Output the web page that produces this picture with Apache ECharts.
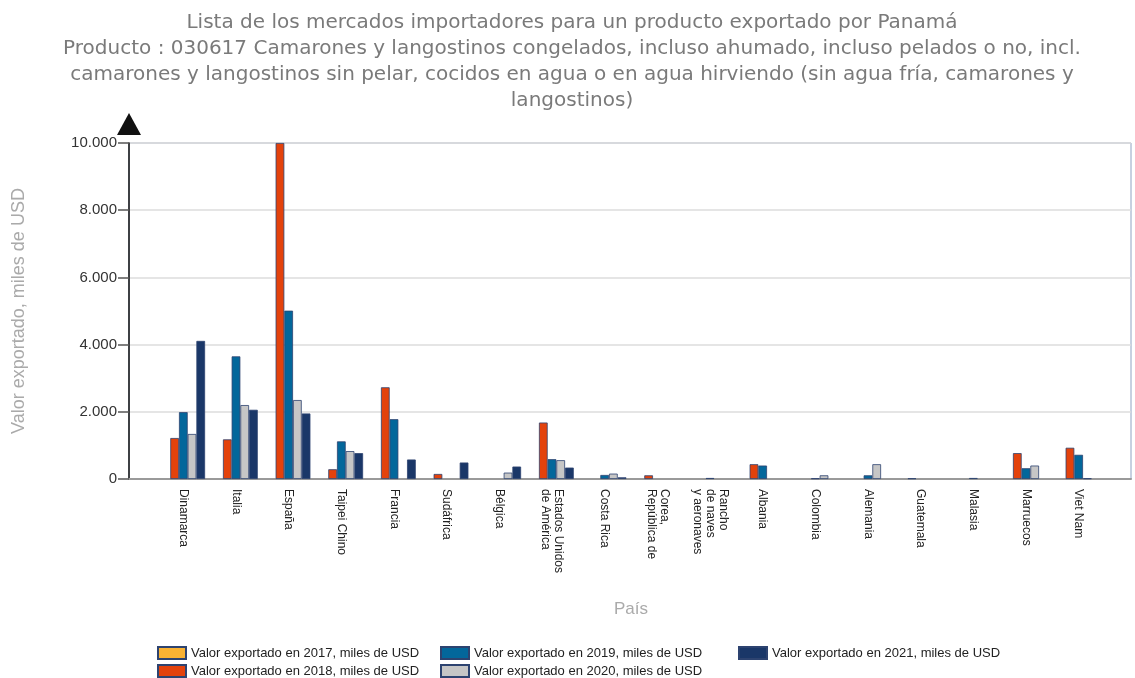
<!DOCTYPE html>
<html>
<head>
<meta charset="utf-8">
<script src="https://cdn.jsdelivr.net/npm/echarts@6/dist/echarts.min.js"></script>
<style>
  html, body { margin: 0; padding: 0; background: #fff; }
  #chart { width: 1135px; height: 678px; }
</style>
</head>
<body>
<div id="chart"></div>
<script>
// países (eje X)
const categories = [
  'Dinamarca', 'Italia', 'España', 'Taipei Chino', 'Francia', 'Sudáfrica', 'Bélgica',
  'Estados Unidos\nde América', 'Costa Rica', 'Corea,\nRepública de',
  'Rancho\nde naves\ny aeronaves', 'Albania', 'Colombia', 'Alemania', 'Guatemala',
  'Malasia', 'Marruecos', 'Viet Nam'
];

// valores exportados, miles de USD
const v2017 = [null, null, null, null, null, null, null, null, null, null, null, null, null, null, null, null, null, null];
const v2018 = [1220, 1180, 10000, 290, 2730, 150, null, 1680, null, 110, null, 440, null, null, 20, null, 770, 930];
const v2019 = [1990, 3650, 5010, 1120, 1780, null, null, 590, 120, null, 30, 400, 20, 110, null, 30, 320, 720];
const v2020 = [1340, 2200, 2350, 830, null, null, 190, 560, 160, null, null, null, 110, 440, null, null, 400, 20];
const v2021 = [4110, 2060, 1950, 770, 580, 490, 370, 340, 50, null, null, null, null, null, null, null, null, null];

const seriesNames = [
  'Valor exportado en 2017, miles de USD',
  'Valor exportado en 2018, miles de USD',
  'Valor exportado en 2019, miles de USD',
  'Valor exportado en 2020, miles de USD',
  'Valor exportado en 2021, miles de USD'
];
const seriesData = [v2017, v2018, v2019, v2020, v2021];
const colors = ['#f9b233', '#e3420c', '#03679b', '#c6c6c6', '#1a3768'];

const yTicks = [0, 2000, 4000, 6000, 8000, 10000];

const chart = echarts.init(document.getElementById('chart'));

const legendText = { fontFamily: 'Liberation Sans', fontSize: 13, color: '#222' };
const legendBase = {
  orient: 'vertical',
  top: 646,
  padding: 0,
  itemWidth: 28,
  itemHeight: 12,
  itemGap: 4,
  icon: 'rect',
  textStyle: legendText,
  selectedMode: false
};

chart.setOption({
  animation: false,
  title: {
    text: 'Lista de los mercados importadores para un producto exportado por Panamá\n' +
      'Producto : 030617 Camarones y langostinos congelados, incluso ahumado, incluso pelados o no, incl.\n' +
      'camarones y langostinos sin pelar, cocidos en agua o en agua hirviendo (sin agua fría, camarones y\n' +
      'langostinos)',
    left: 567,
    top: 5,
    textAlign: 'center',
    textStyle: {
      fontFamily: 'DejaVu Sans',
      fontSize: 20,
      fontWeight: 'normal',
      color: '#7a7a7a',
      lineHeight: 26
    }
  },
  legend: [
    Object.assign({}, legendBase, { left: 157, data: [seriesNames[0], seriesNames[1]] }),
    Object.assign({}, legendBase, { left: 440, data: [seriesNames[2], seriesNames[3]] }),
    Object.assign({}, legendBase, { left: 738, data: [seriesNames[4]] })
  ],
  grid: [
    // marco
    { left: 129, right: 4, top: 143, bottom: 199, show: true, borderColor: '#8fa2c2', borderWidth: 1 },
    // barras
    { left: 157, right: 30, top: 143, bottom: 199 }
  ],
  xAxis: [
    {
      gridIndex: 0,
      type: 'value',
      min: 0,
      max: 1,
      axisLine: { show: true, lineStyle: { color: '#9a9a9a', width: 2 } },
      axisTick: { show: false },
      axisLabel: { show: false },
      splitLine: { show: false }
    },
    {
      gridIndex: 1,
      type: 'category',
      data: categories,
      name: 'País',
      nameLocation: 'middle',
      nameGap: 122,
      nameTextStyle: { fontFamily: 'Liberation Sans', fontSize: 17, color: '#aaa' },
      axisLine: { show: false },
      axisTick: { show: false },
      axisLabel: {
        rotate: -90,
        interval: 0,
        margin: 10,
        fontFamily: 'Liberation Sans',
        fontSize: 12,
        color: '#222',
        lineHeight: 13
      }
    }
  ],
  yAxis: [
    {
      gridIndex: 0,
      type: 'value',
      min: yTicks[0],
      max: yTicks[yTicks.length - 1],
      interval: 2000,
      name: 'Valor exportado, miles de USD',
      nameLocation: 'middle',
      nameGap: 101,
      nameTextStyle: { fontFamily: 'Liberation Sans', fontSize: 18, color: '#aaa' },
      axisLine: {
        show: true,
        lineStyle: { color: '#111', width: 1.5 },
        symbol: ['none', 'triangle'],
        symbolSize: [24, 22],
        symbolOffset: [0, 19]
      },
      axisTick: { show: true, length: 11, lineStyle: { color: '#555', width: 1.5 } },
      axisLabel: {
        margin: 12,
        fontFamily: 'Liberation Sans',
        fontSize: 15,
        color: '#333',
        formatter: (v) => v.toLocaleString('de-DE')
      },
      splitLine: { show: true, lineStyle: { color: '#dcdcdc', width: 1.5 } }
    },
    {
      gridIndex: 1,
      type: 'value',
      min: yTicks[0],
      max: yTicks[yTicks.length - 1],
      show: false,
      splitLine: { show: false }
    }
  ],
  series: seriesData.map((d, i) => ({
    name: seriesNames[i],
    type: 'bar',
    xAxisIndex: 1,
    yAxisIndex: 1,
    data: d,
    barWidth: 8.7,
    barGap: '0%',
    itemStyle: { color: colors[i], borderColor: '#2d4370', borderWidth: 0.8 }
  }))
});
</script>
</body>
</html>
